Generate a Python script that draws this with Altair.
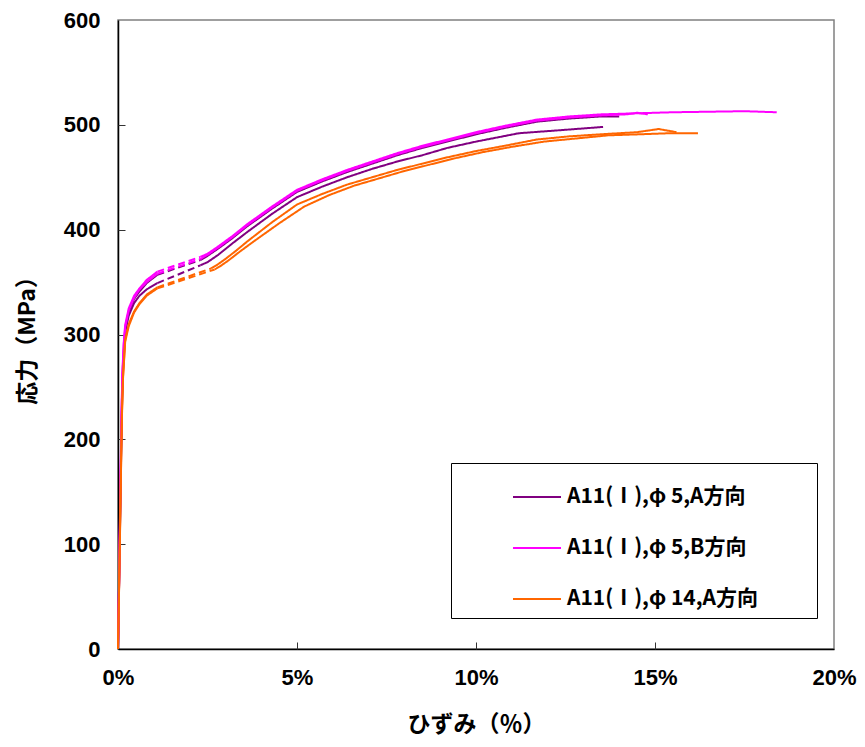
import altair as alt
import pandas as pd

# ---- data (strain in %, stress in MPa) ----
series_names = ["A11(Ⅰ),φ 5,A方向", "A11(Ⅰ),φ 5,B方向", "A11(Ⅰ),φ 14,A方向"]
series_colors = ["#800080", "#FF00FF", "#FF6600"]

# each specimen: solid part 1, dashed gap (two points), solid part 2
# purple, lower specimen
p1_x1 = [0, 0.04, 0.08, 0.11, 0.14, 0.2, 0.3, 0.45, 0.6, 0.8, 1.1]
p1_y1 = [0, 80, 170, 230, 265, 302, 318, 330, 337, 343, 349]
p1_gx = [1.1, 2.3]
p1_gy = [349, 366]
p1_x2 = [2.3, 2.5, 2.8, 3.2, 3.62, 4.3, 5.0, 5.7, 6.4, 7.1, 7.8, 8.5, 9.2, 10.0, 11.2, 12.4, 13.55]
p1_y2 = [366, 369, 376, 387, 398, 415, 431, 441, 450, 458, 465, 471, 478, 484, 492, 495, 498]

# purple, upper specimen (close to magenta)
p2_x1 = [0, 0.04, 0.08, 0.11, 0.14, 0.2, 0.3, 0.45, 0.6, 0.8, 1.1]
p2_y1 = [0, 82, 175, 238, 272, 305, 322, 334, 341, 349, 357]
p2_gx = [1.1, 2.3]
p2_gy = [357, 371]
p2_x2 = [2.3, 2.5, 2.8, 3.2, 3.6, 4.3, 5.0, 5.7, 6.4, 7.1, 7.8, 8.5, 9.2, 10.0, 10.8, 11.7, 12.6, 13.5, 14.0]
p2_y2 = [371, 375, 382, 392, 403, 420, 436, 446, 455, 463, 471, 478, 484, 491, 497, 503, 506, 508, 508]

# magenta, long specimen
m1_x1 = [0, 0.03, 0.06, 0.09, 0.12, 0.16, 0.2, 0.3, 0.45, 0.6, 0.8, 1.1]
m1_y1 = [0, 65, 140, 210, 262, 292, 309, 325, 337, 344, 352, 360]
m1_gx = [1.1, 2.3]
m1_gy = [360, 374]
m1_x2 = [2.3, 2.5, 2.8, 3.2, 3.6, 4.3, 5.0, 5.7, 6.4, 7.1, 7.8, 8.5, 9.2, 10.0, 10.8, 11.7, 12.6, 13.5, 14.5, 15.5, 16.5, 17.5, 18.4]
m1_y2 = [374, 377, 384, 394, 405, 422, 438, 448, 457, 465, 473, 480, 486, 493, 499, 505, 508, 510, 511, 512, 512.5, 513, 512]

# magenta, short specimen
m2_x1 = [0, 0.03, 0.06, 0.09, 0.12, 0.16, 0.2, 0.3, 0.45, 0.6, 0.8, 1.1]
m2_y1 = [0, 62, 135, 205, 258, 290, 307, 323, 335, 343, 350, 358]
m2_gx = [1.1, 2.3]
m2_gy = [358, 372]
m2_x2 = [2.3, 2.5, 2.8, 3.2, 3.6, 4.3, 5.0, 5.7, 6.4, 7.1, 7.8, 8.5, 9.2, 10.0, 10.8, 11.7, 12.6, 13.5, 14.2, 14.5, 14.8]
m2_y2 = [372, 376, 383, 393, 404, 421, 437, 447, 456, 464, 472, 479, 485, 492, 498, 504, 507, 509, 510, 511.5, 510]

# orange, specimen with hook
o1_x1 = [0, 0.04, 0.08, 0.11, 0.14, 0.2, 0.3, 0.45, 0.6, 0.8, 1.1]
o1_y1 = [0, 78, 165, 225, 260, 295, 310, 322, 330, 338, 345]
o1_gx = [1.1, 2.6]
o1_gy = [345, 363]
o1_x2 = [2.6, 2.75, 3.0, 3.3, 3.62, 4.3, 5.0, 5.7, 6.4, 7.1, 7.8, 8.5, 9.2, 10.0, 10.8, 11.7, 12.6, 13.5, 14.5, 15.1, 15.6]
o1_y2 = [363, 366, 372, 380, 389, 407, 424, 434, 443, 450, 457, 463, 469, 475, 480, 486, 489, 491, 493, 496, 493]

# orange, longer specimen
o2_x1 = [0, 0.04, 0.08, 0.11, 0.14, 0.2, 0.3, 0.45, 0.6, 0.8, 1.1]
o2_y1 = [0, 76, 162, 222, 258, 293, 308, 321, 329, 337, 344]
o2_gx = [1.1, 2.7]
o2_gy = [344, 362]
o2_x2 = [2.7, 2.85, 3.1, 3.4, 3.8, 4.5, 5.2, 5.9, 6.6, 7.3, 8.0, 8.7, 9.4, 10.2, 11.0, 11.9, 12.8, 13.7, 14.6, 15.4, 16.2]
o2_y2 = [362, 365, 371, 379, 389, 406, 422, 433, 442, 449, 456, 462, 468, 474, 479, 484, 487, 490, 491, 492, 492]

specimens = [
    (series_names[0], "p1", p1_x1, p1_y1, p1_gx, p1_gy, p1_x2, p1_y2),
    (series_names[0], "p2", p2_x1, p2_y1, p2_gx, p2_gy, p2_x2, p2_y2),
    (series_names[1], "m1", m1_x1, m1_y1, m1_gx, m1_gy, m1_x2, m1_y2),
    (series_names[1], "m2", m2_x1, m2_y1, m2_gx, m2_gy, m2_x2, m2_y2),
    (series_names[2], "o1", o1_x1, o1_y1, o1_gx, o1_gy, o1_x2, o1_y2),
    (series_names[2], "o2", o2_x1, o2_y1, o2_gx, o2_gy, o2_x2, o2_y2),
]

rows = []
for name, sid, x1, y1, gx, gy, x2, y2 in specimens:
    for part, style, xs, ys in [("a", "solid", x1, y1), ("g", "dashed", gx, gy), ("b", "solid", x2, y2)]:
        for i, (xv, yv) in enumerate(zip(xs, ys)):
            rows.append({"series": name, "seg": sid + part, "style": style,
                         "x": xv, "y": yv, "ord": i})
df = pd.DataFrame(rows)

W, H = 716, 629
tick_font = "Liberation Sans"
cjk_font = "Noto Sans CJK JP"

lines = alt.Chart(df).mark_line(strokeWidth=2).encode(
    x=alt.X("x:Q", scale=alt.Scale(domain=[0, 20], nice=False),
            axis=alt.Axis(values=[0, 5, 10, 15, 20], labelExpr="datum.value + '%'",
                          title="ひずみ（％）", grid=False, ticks=False, labelFlush=False,
                          domainColor="#000000", domainWidth=1.5,
                          labelFont=tick_font, labelFontSize=22, labelFontWeight="bold",
                          labelColor="#000000", labelPadding=18,
                          titleFont=cjk_font, titleFontSize=23, titleFontWeight="bold",
                          titleColor="#000000", titlePadding=25)),
    y=alt.Y("y:Q", scale=alt.Scale(domain=[0, 600], nice=False),
            axis=alt.Axis(values=[0, 100, 200, 300, 400, 500, 600],
                          title="応力（MPa）", grid=False, ticks=False, labelFlush=False,
                          domainColor="#000000", domainWidth=1.5,
                          labelFont=tick_font, labelFontSize=22, labelFontWeight="bold",
                          labelColor="#000000", labelPadding=18,
                          titleFont=cjk_font, titleFontSize=23, titleFontWeight="bold",
                          titleColor="#000000", titlePadding=24)),
    color=alt.Color("series:N",
                    scale=alt.Scale(domain=series_names, range=series_colors),
                    legend=alt.Legend(title=None, orient="none", legendX=333, legendY=443,
                                      symbolType="stroke", symbolStrokeWidth=2,
                                      symbolSize=2304, symbolOffset=52,
                                      labelFont=cjk_font, labelFontSize=21, labelLimit=0,
                                      labelExpr="datum.label + '\u2800\u2800 \u2800'",
                                      labelFontWeight="bold", labelColor="#000000",
                                      labelOffset=5, rowPadding=16, padding=9,
                                      strokeColor="#000000", fillColor="#FFFFFF")),
    strokeDash=alt.StrokeDash("style:N",
                              scale=alt.Scale(domain=["solid", "dashed"], range=[[1, 0], [7, 4]]),
                              legend=None),
    detail="seg:N",
    order="ord:Q",
)

ticks_layer = alt.Chart(df).mark_line(opacity=0).encode(
    x=alt.X("x:Q", scale=alt.Scale(domain=[0, 20], nice=False),
            axis=alt.Axis(orient="top", offset=-H, values=[5, 10, 15], labels=False,
                          domain=False, grid=False, ticks=True, tickSize=7, tickWidth=1,
                          tickColor="#333333", title=None)),
    y=alt.Y("y:Q", scale=alt.Scale(domain=[0, 600], nice=False),
            axis=alt.Axis(orient="right", offset=-W, values=[100, 200, 300, 400, 500],
                          labels=False, domain=False, grid=False, ticks=True, tickSize=7,
                          tickWidth=1, tickColor="#333333", title=None)),
    detail="seg:N",
    order="ord:Q",
)

chart = alt.layer(lines, ticks_layer).resolve_scale(
    x="independent", y="independent"
).resolve_axis(x="independent", y="independent").properties(
    width=W, height=H,
    autosize=alt.AutoSizeParams(type="none"),
    padding={"left": 110, "top": 12, "right": 23, "bottom": 90},
    background="#FFFFFF",
).configure_view(stroke="#808080", strokeWidth=1.5)

chart.save("out.html", embed_options={"renderer": "svg", "actions": False})
